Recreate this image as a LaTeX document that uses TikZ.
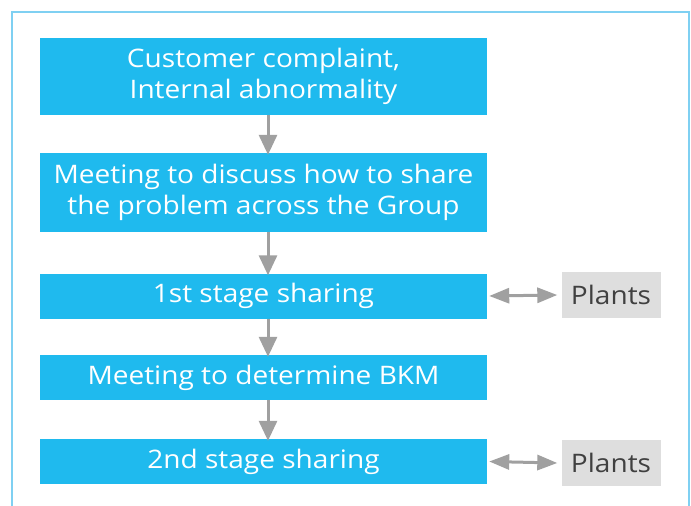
\documentclass[tikz,border=0pt]{standalone}
\usepackage{fontspec}
\setmainfont{Open Sans}[FakeStretch=1.1]
\usetikzlibrary{arrows.meta}
\definecolor{boxblue}{HTML}{1FBAEE}
\definecolor{framecol}{HTML}{7FD0F2}
\definecolor{arrgray}{HTML}{A0A0A0}
\definecolor{plantbg}{HTML}{DEDEDE}
\definecolor{planttxt}{HTML}{404040}
\begin{document}
\begin{tikzpicture}[x=1pt,y=-1pt,
  stepbox/.style={fill=boxblue,text=white,minimum width=447pt,inner sep=0pt,align=center,font=\fontsize{25.5}{31}\selectfont},
  plantbox/.style={fill=plantbg,text=planttxt,minimum width=99pt,minimum height=46pt,inner sep=0pt,font=\fontsize{25.5}{31}\selectfont},
  varrow/.style={draw=arrgray,line width=3pt,-{Triangle[length=20pt,width=18pt]}},
  harrow/.style={draw=arrgray,line width=3pt,{Triangle[length=20pt,width=15pt]}-{Triangle[length=20pt,width=15pt]}}]
\useasboundingbox (0,0) rectangle (691,506);
\fill[white] (0,0) rectangle (691,506);
\draw[framecol,line width=1.2pt] (12,530) -- (12,12) -- (689,12) -- (689,530);
\node[stepbox,minimum height=77pt] (s1) at (263.5,76) {Customer complaint,\\Internal abnormality};
\node[stepbox,minimum height=79pt] (s2) at (263.5,192.5) {Meeting to discuss how to share\\the problem across the Group};
\node[stepbox,minimum height=45pt] (s3) at (263.5,296) {1st stage sharing};
\node[stepbox,minimum height=45pt] (s4) at (263.5,377.5) {Meeting to determine BKM};
\node[stepbox,minimum height=45pt] (s5) at (263.5,461.5) {2nd stage sharing};
\node[plantbox] (p1) at (611,295) {Plants};
\node[plantbox] (p2) at (611,463) {Plants};
\draw[varrow] (s1.south -| 268,0) -- ([yshift=-2pt]s2.north -| 268,0);
\draw[varrow] (s2.south -| 268,0) -- ([yshift=-2pt]s3.north -| 268,0);
\draw[varrow] (s3.south -| 268,0) -- ([yshift=-2pt]s4.north -| 268,0);
\draw[varrow] (s4.south -| 268,0) -- ([yshift=-2pt]s5.north -| 268,0);
\draw[harrow] ([xshift=2pt]s3.east) -- ([xshift=-4pt]p1.west);
\draw[harrow] ([xshift=2pt]s5.east) -- ([xshift=-4pt]p2.west);
\end{tikzpicture}
\end{document}
